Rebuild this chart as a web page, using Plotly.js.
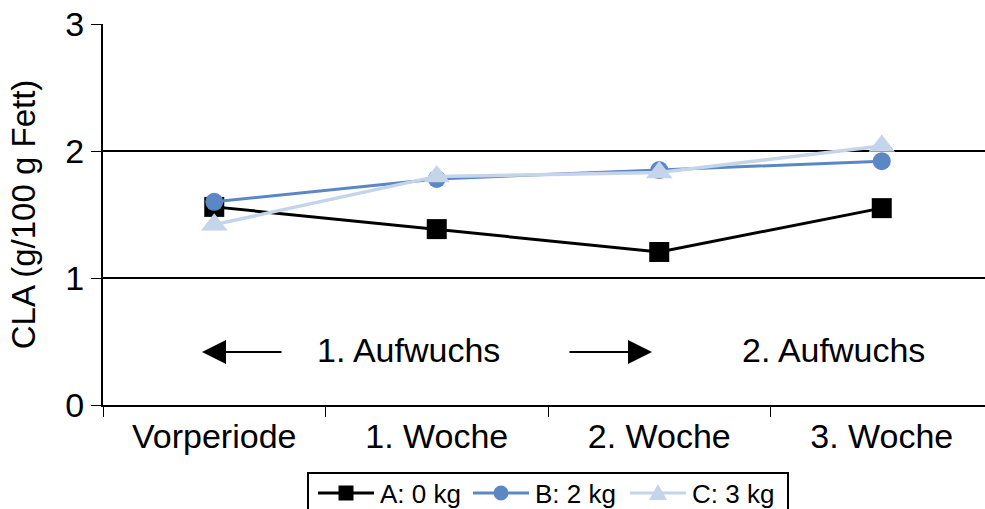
<!DOCTYPE html>
<html>
<head>
<meta charset="utf-8">
<script src="https://cdn.plot.ly/plotly-3.0.1.min.js"></script>
<style>
  html, body { margin: 0; padding: 0; background: #ffffff; }
  #chart { width: 985px; height: 509px; }
</style>
</head>
<body>
<div id="chart"></div>
<script>
// Sampling periods along the x axis
const periods = ['Vorperiode', '1. Woche', '2. Woche', '3. Woche'];

// CLA content in milk fat (g/100 g Fett) per feeding group
const groupA = [1.56, 1.385, 1.205, 1.55];   // A: 0 kg
const groupB = [1.60, 1.78, 1.85, 1.92];     // B: 2 kg
const groupC = [1.42, 1.80, 1.83, 2.04];     // C: 3 kg

const seriesNames = ['A: 0 kg', 'B: 2 kg', 'C: 3 kg'];
const seriesColors = ['#000000', '#5B87C5', '#C4D4EA'];
const yTicks = [0, 1, 2, 3];

const FONT = 'Liberation Sans, Arial, sans-serif';
const BIG = 34;

const traces = [
  {
    x: periods, y: groupA, name: seriesNames[0], type: 'scatter', mode: 'lines+markers',
    line: { color: seriesColors[0], width: 3 },
    marker: { symbol: 'square', size: 20, color: seriesColors[0] }
  },
  {
    x: periods, y: groupB, name: seriesNames[1], type: 'scatter', mode: 'lines+markers',
    line: { color: seriesColors[1], width: 3 },
    marker: { symbol: 'circle', size: 18, color: seriesColors[1] }
  },
  {
    x: periods, y: groupC, name: seriesNames[2], type: 'scatter', mode: 'lines+markers',
    line: { color: seriesColors[2], width: 3.5 },
    marker: { symbol: 'triangle-up', size: 23, color: seriesColors[2] }
  }
];

// Plot area spans 103..985 px horizontally, 24..405 px vertically
const L = 103, T = 24, B = 405, W = 882, H = 381;
const px = v => (v - L) / W;
const py = v => (B - v) / H;

// Boxed legend below the axis, built from shapes and text
const legendLeft = 308, legendRight = 788, legendTop = 473, legendRowY = 493;
const legendSlots = [318, 473, 630];   // start of each entry's line sample
const sampleLen = 56;

const shapes = [
  { type: 'rect', xref: 'paper', yref: 'paper',
    x0: px(legendLeft), x1: px(legendRight), y0: py(legendTop), y1: py(530),
    fillcolor: '#ffffff', line: { color: '#000000', width: 2 }, layer: 'above' }
];
const legendText = [];

legendSlots.forEach((x0, i) => {
  const cx = x0 + sampleLen / 2;
  shapes.push({ type: 'line', xref: 'paper', yref: 'paper',
    x0: px(x0), x1: px(x0 + sampleLen), y0: py(legendRowY), y1: py(legendRowY),
    line: { color: seriesColors[i], width: 3 }, layer: 'above' });
  if (i === 0) {
    shapes.push({ type: 'rect', xref: 'paper', yref: 'paper',
      x0: px(cx - 7.5), x1: px(cx + 7.5), y0: py(legendRowY + 7.5), y1: py(legendRowY - 7.5),
      fillcolor: seriesColors[i], line: { width: 0 }, layer: 'above' });
  } else if (i === 1) {
    shapes.push({ type: 'circle', xref: 'paper', yref: 'paper',
      x0: px(cx - 7.5), x1: px(cx + 7.5), y0: py(legendRowY + 7.5), y1: py(legendRowY - 7.5),
      fillcolor: seriesColors[i], line: { width: 0 }, layer: 'above' });
  } else {
    shapes.push({ type: 'path', xref: 'paper', yref: 'paper',
      path: 'M' + px(cx - 9) + ',' + py(legendRowY + 7) +
            'L' + px(cx + 9) + ',' + py(legendRowY + 7) +
            'L' + px(cx) + ',' + py(legendRowY - 9) + 'Z',
      fillcolor: seriesColors[i], line: { width: 0 }, layer: 'above' });
  }
  legendText.push({ xref: 'paper', yref: 'paper', x: px(x0 + sampleLen + 4), y: py(legendRowY + 1),
    text: seriesNames[i], showarrow: false, xanchor: 'left', yanchor: 'middle',
    font: { size: 26, family: FONT, color: '#000000' } });
});

const layout = {
  width: 985, height: 509,
  margin: { l: L, r: 0, t: T, b: 509 - B, autoexpand: false },
  paper_bgcolor: '#ffffff', plot_bgcolor: '#ffffff',
  font: { family: FONT, color: '#000000', size: BIG },
  showlegend: false,
  xaxis: {
    type: 'category',
    range: [-0.5, 3.464],
    showline: true, linecolor: '#000000', linewidth: 2,
    showgrid: false, zeroline: false,
    ticks: 'outside', tickson: 'boundaries', ticklen: 10, tickwidth: 1, tickcolor: '#000000',
    tickfont: { size: BIG, family: FONT, color: '#000000' },
    fixedrange: true
  },
  yaxis: {
    range: [0, 3],
    tickvals: yTicks,
    ticktext: yTicks.map(String),
    showline: true, linecolor: '#000000', linewidth: 2,
    showgrid: true, gridcolor: '#000000', gridwidth: 1.5,
    zeroline: false,
    ticks: 'outside', ticklen: 10, tickwidth: 1, tickcolor: '#000000',
    tickfont: { size: BIG, family: FONT, color: '#000000' },
    title: { text: 'CLA (g/100 g Fett)', font: { size: 33, family: FONT, color: '#000000' }, standoff: 20 },
    fixedrange: true
  },
  shapes: shapes,
  annotations: [
    { xref: 'paper', yref: 'paper', x: px(408), y: py(350), text: '1. Aufwuchs', showarrow: false,
      font: { size: BIG, family: FONT, color: '#000000' }, xanchor: 'center', yanchor: 'middle' },
    { xref: 'paper', yref: 'paper', x: px(833), y: py(350), text: '2. Aufwuchs', showarrow: false,
      font: { size: BIG, family: FONT, color: '#000000' }, xanchor: 'center', yanchor: 'middle' },
    { xref: 'paper', yref: 'paper', x: px(202), y: py(352), text: '', showarrow: true,
      ax: 81, ay: 0, arrowhead: 2, arrowsize: 2.4, arrowwidth: 2, arrowcolor: '#000000' },
    { xref: 'paper', yref: 'paper', x: px(652), y: py(352), text: '', showarrow: true,
      ax: -84, ay: 0, arrowhead: 2, arrowsize: 2.4, arrowwidth: 2, arrowcolor: '#000000' }
  ].concat(legendText)
};

Plotly.newPlot('chart', traces, layout, { staticPlot: true, displayModeBar: false });
</script>
</body>
</html>
